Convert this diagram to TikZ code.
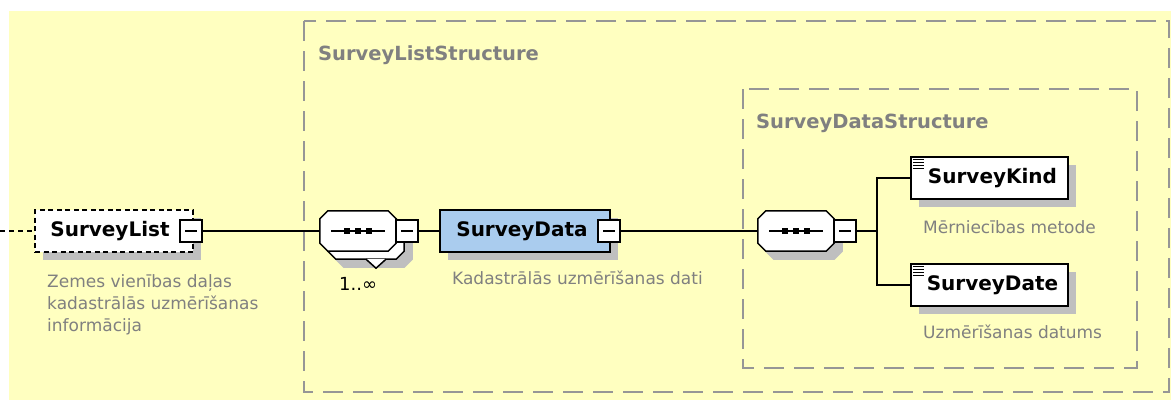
\documentclass[tikz,border=0pt]{standalone}
\usepackage{fontspec}
\setmainfont{DejaVu Sans}
\usetikzlibrary{calc,shadows}
\definecolor{bgyellow}{RGB}{255,255,192}
\definecolor{elblue}{RGB}{170,204,238}
\definecolor{strgray}{RGB}{150,150,150}
\definecolor{txtgray}{RGB}{128,128,128}
\newcommand{\minusbar}{\rule[-.75pt]{12pt}{1.5pt}}

\begin{document}
\begin{tikzpicture}[x=1pt,y=-1pt,line join=miter,
  bxshadow/.style={drop shadow={shadow xshift=8pt,shadow yshift=-8pt,fill=black!25,opacity=1}},
  elbox/.style={draw,fill=white,line width=1.5pt,minimum height=42,inner sep=0,
    font=\fontsize{20}{24}\selectfont\bfseries,bxshadow},
  minusbox/.style={draw,fill=white,line width=1.5pt,minimum size=22,inner sep=0},
  seqbox/.style={minimum width=76,minimum height=40,inner sep=0},
  strbox/.style={draw=strgray,line width=2pt,dash pattern=on 20pt off 10pt},
  strlabel/.style={text=txtgray,font=\fontsize{19.5}{24}\selectfont\bfseries,anchor=base west,inner sep=0},
  desc/.style={text=txtgray,font=\fontsize{17}{22}\selectfont,anchor=base west,inner sep=0,align=left},
  conn/.style={line width=1.5pt}]
\fill[white] (0,0) rectangle (1171,400);
\fill[bgyellow] (9,11) rectangle (1171,400);
\useasboundingbox (0,0) rectangle (1171,400);
\path
(0,231) coordinate (lft)
(877,231) coordinate (j)
;
\draw[strbox] (304,21) rectangle (1169,392);
\draw[strbox] (743,89) rectangle (1137,368);
\node[strlabel] (lsl) at (318,60) {SurveyListStructure};
\node[strlabel] (lsd) at (756,128) {SurveyDataStructure};
\node[elbox,minimum width=158,dash pattern=on 5pt off 3.5pt] (sl) at (114,231) {SurveyList\kern8pt};
\node[minusbox] (slm) at (191,231) {\minusbar};
\node[seqbox] (c1b) at (366,239) {};
\node[seqbox] (c1) at (358,231) {};
\node[seqbox] (c2) at (796,231) {};
\foreach \c/\sh/\fc/\dc in {c1b/8/black!25/black!25,c1b/0/white/black,c1/0/white/black,c2/8/black!25/black!25,c2/0/white/black}
{\draw[conn,fill=\fc,draw=\dc]
($(\c.north west)+(8+\sh,\sh)$)--($(\c.north east)+(-8+\sh,\sh)$)--($(\c.north east)+(\sh,8+\sh)$)
--($(\c.south east)+(\sh,-8+\sh)$)--($(\c.south east)+(-8+\sh,\sh)$)--($(\c.south west)+(8+\sh,\sh)$)
--($(\c.south west)+(\sh,-8+\sh)$)--($(\c.north west)+(\sh,8+\sh)$)--cycle;}
\draw[conn,fill=white] ($(c1b.south)+(0,0)$)--($(c1b.south)+(10,9)$)--($(c1b.south)+(20,0)$);
\node[minusbox] (c1m) at (407,231) {\minusbar};
\node[elbox,fill=elblue,minimum width=170] (sd) at (525,231) {SurveyData\kern6pt};
\node[minusbox] (sdm) at (609,231) {\minusbar};
\node[minusbox] (c2m) at (845,231) {\minusbar};
\node[elbox,minimum width=157] (sk) at (989.5,178) {\kern6pt SurveyKind};
\node[elbox,minimum width=157] (sdt) at (989.5,285) {\kern6pt SurveyDate};
\node[desc,anchor=north west] (sldesc) at (47,274) {Zemes vienības daļas\\kadastrālās uzmērīšanas\\informācija};
\node[desc] (sddesc) at (452,284) {Kadastrālās uzmērīšanas dati};
\node[desc] (skdesc) at (923,233) {Mērniecības metode};
\node[desc] (sdtdesc) at (923,338) {Uzmērīšanas datums};
\node[anchor=base west,inner sep=0,font=\fontsize{18}{22}\selectfont] (mult) at (339,290) {1..∞};
\draw[conn,dash pattern=on 5pt off 4pt] (lft)--(sl);
\draw[conn] (slm)--(c1) (c1m)--(sd) (sdm)--(c2) (c2m)--(j)
(sk.west)-|(j)|-(sdt.west);
\foreach \c in {c1,c2}
{\draw[conn] ($(\c)+(-27,0)$)--($(\c)+(27,0)$);
\foreach \d in {-11,0,11} \fill ($(\c)+(\d,0)$) +(-3,-3) rectangle +(3,3);}
\foreach \e in {sk,sdt}
{\foreach \k in {3,6,9,12} \draw[line width=1.2pt] ($(\e.north west)+(3,\k)$)--+(11,0);}
\end{tikzpicture}
\end{document}
